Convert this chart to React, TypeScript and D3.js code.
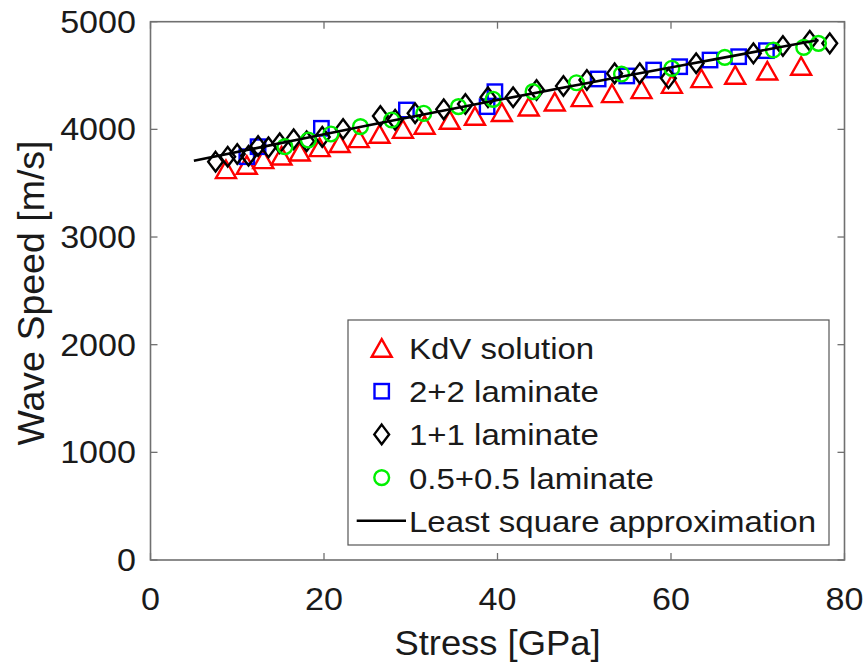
import React from "react";
import * as d3 from "d3";

// Wave speed versus stress for the KdV model and three laminate simulations
const kdvStress = [8.7, 11.1, 13.0, 15.1, 17.2, 19.5, 21.8, 24.0, 26.4, 29.1, 31.6, 34.5, 37.4, 40.5, 43.6, 46.6, 49.7, 53.2, 56.6, 60.1, 63.5, 67.4, 71.1, 75.0];
const kdvSpeed = [3629, 3669, 3722, 3755, 3792, 3833, 3871, 3917, 3957, 4003, 4041, 4087, 4124, 4160, 4211, 4257, 4298, 4335, 4372, 4421, 4474, 4505, 4545, 4589];

const lam22Stress = [11.1, 12.4, 19.7, 29.5, 38.8, 39.7, 51.6, 54.9, 58.0, 61.0, 64.5, 67.8, 71.0];
const lam22Speed = [3746, 3839, 4010, 4180, 4211, 4350, 4468, 4496, 4551, 4582, 4644, 4675, 4731];

const lam11Stress = [7.5, 8.9, 10.0, 11.3, 12.4, 13.6, 14.9, 16.5, 18.0, 19.8, 22.2, 26.5, 28.2, 30.5, 33.8, 36.3, 38.9, 41.8, 44.5, 47.6, 50.3, 53.5, 56.4, 59.7, 62.9, 69.5, 72.9, 76.0, 78.3];
const lam11Speed = [3700, 3746, 3771, 3755, 3845, 3833, 3871, 3908, 3890, 3930, 4003, 4124, 4090, 4150, 4186, 4236, 4298, 4298, 4366, 4403, 4459, 4520, 4520, 4474, 4614, 4706, 4774, 4823, 4799];

const lam05Stress = [15.5, 18.2, 20.8, 24.2, 27.8, 31.5, 35.5, 39.5, 44.1, 49.1, 54.3, 60.1, 66.2, 71.8, 75.3, 77.0];
const lam05Speed = [3839, 3901, 3957, 4025, 4087, 4149, 4211, 4279, 4350, 4433, 4514, 4567, 4669, 4737, 4762, 4799];

const fitStress = [5, 15, 25, 40, 55, 65, 77];
const fitSpeed = [3708, 3872, 4035, 4272, 4500, 4650, 4830];

const xTicks = [0, 20, 40, 60, 80];
const yTicks = [0, 1000, 2000, 3000, 4000, 5000];

const legendLabels = ["KdV solution", "2+2 laminate", "1+1 laminate", "0.5+0.5 laminate", "Least square approximation"];

const W = 868;
const H = 666;
const left = 150.5;
const right = 844.5;
const top = 21.7;
const bottom = 560;
const FONT = "'Liberation Sans', Arial, Helvetica, sans-serif";
const SX = 1.1; // horizontal glyph widening

const x = d3.scaleLinear().domain([0, 80]).range([left, right]);
const y = d3.scaleLinear().domain([0, 5000]).range([bottom, top]);

type Kind = "tri" | "sq" | "dia" | "circ";

function Marker({ kind, cx, cy }: { kind: Kind; cx: number; cy: number }) {
  const sw = 2.4;
  if (kind === "tri") {
    const w = 10, h = 8.8;
    return <path d={`M${cx},${cy - h}L${cx + w},${cy + h}L${cx - w},${cy + h}Z`} fill="none" stroke="#ff0000" strokeWidth={sw} strokeLinejoin="miter" />;
  }
  if (kind === "sq") {
    const s = 7.2;
    return <rect x={cx - s} y={cy - s} width={2 * s} height={2 * s} fill="none" stroke="#0000ff" strokeWidth={sw} />;
  }
  if (kind === "dia") {
    const w = 7.4, h = 9.8;
    return <path d={`M${cx},${cy - h}L${cx + w},${cy}L${cx},${cy + h}L${cx - w},${cy}Z`} fill="none" stroke="#000000" strokeWidth={sw} />;
  }
  return <circle cx={cx} cy={cy} r={7.4} fill="none" stroke="#00f000" strokeWidth={sw} />;
}

function SText({ x: tx, y: ty, size, anchor, sx = SX, children }: { x: number; y: number; size: number; anchor: string; sx?: number; children: React.ReactNode }) {
  return (
    <text transform={`translate(${tx},${ty}) scale(${sx},1)`} fontSize={size} fontFamily={FONT} textAnchor={anchor as any} fill="#1a1a1a">
      {children}
    </text>
  );
}

export default function App() {
  const series: { kind: Kind; xs: number[]; ys: number[] }[] = [
    { kind: "tri", xs: kdvStress, ys: kdvSpeed },
    { kind: "sq", xs: lam22Stress, ys: lam22Speed },
    { kind: "dia", xs: lam11Stress, ys: lam11Speed },
    { kind: "circ", xs: lam05Stress, ys: lam05Speed },
  ];

  const fitLine = d3
    .line<number>()
    .x((_, i) => x(fitStress[i]))
    .y((d) => y(d))
    .curve(d3.curveMonotoneX)(fitSpeed) as string;

  const tickLen = 7;
  const axisColor = "#707070";

  const legX = 348, legY = 320, legW = 481, legH = 225;
  const rowY0 = 348, rowStep = 43.2;
  const markX = 381.7, textX = 409;

  return (
    <svg width={W} height={H} style={{ position: "absolute", left: 0, top: 0, background: "#fff" }}>
      <rect x={0} y={0} width={W} height={H} fill="#fff" />

      {/* ticks on all four sides, pointing inward */}
      {xTicks.map((t) => (
        <g key={"xt" + t}>
          <line x1={x(t)} x2={x(t)} y1={bottom} y2={bottom - tickLen} stroke={axisColor} strokeWidth={1.3} />
          <line x1={x(t)} x2={x(t)} y1={top} y2={top + tickLen} stroke={axisColor} strokeWidth={1.3} />
        </g>
      ))}
      {yTicks.map((t) => (
        <g key={"yt" + t}>
          <line x1={left} x2={left + tickLen} y1={y(t)} y2={y(t)} stroke={axisColor} strokeWidth={1.3} />
          <line x1={right} x2={right - tickLen} y1={y(t)} y2={y(t)} stroke={axisColor} strokeWidth={1.3} />
        </g>
      ))}

      {/* data markers */}
      {series.map((s) =>
        s.xs.map((v, i) => <Marker key={s.kind + i} kind={s.kind} cx={x(v)} cy={y(s.ys[i])} />)
      )}

      {/* least squares fit */}
      <path d={fitLine} fill="none" stroke="#000" strokeWidth={2.6} />

      {/* axes box */}
      <rect x={left} y={top} width={right - left} height={bottom - top} fill="none" stroke={axisColor} strokeWidth={1.6} />

      {/* tick labels */}
      {xTicks.map((t) => (
        <SText key={"xl" + t} x={x(t)} y={610} size={31} anchor="middle">
          {t}
        </SText>
      ))}
      {yTicks.map((t) => (
        <SText key={"yl" + t} x={136} y={y(t) + 11} size={31} anchor="end">
          {t}
        </SText>
      ))}

      {/* axis titles */}
      <SText x={(left + right) / 2} y={655} size={35} anchor="middle" sx={1.04}>
        Stress [GPa]
      </SText>
      <text
        transform={`translate(44,293) rotate(-90)`}
        fontSize={37.5}
        fontFamily={FONT}
        textAnchor="middle"
        fill="#1a1a1a"
      >
        Wave Speed [m/s]
      </text>

      {/* legend */}
      <rect x={legX} y={legY} width={legW} height={legH} fill="#fff" stroke="#555" strokeWidth={1.2} />
      {legendLabels.map((lab, i) => {
        const cy = rowY0 + i * rowStep;
        const kinds: (Kind | null)[] = ["tri", "sq", "dia", "circ", null];
        const k = kinds[i];
        return (
          <g key={lab}>
            {k ? (
              <Marker kind={k} cx={markX} cy={cy} />
            ) : (
              <line x1={356.7} x2={406} y1={cy} y2={cy} stroke="#000" strokeWidth={2.4} />
            )}
            <SText x={textX} y={cy + 11} size={30} anchor="start">
              {lab}
            </SText>
          </g>
        );
      })}
    </svg>
  );
}
